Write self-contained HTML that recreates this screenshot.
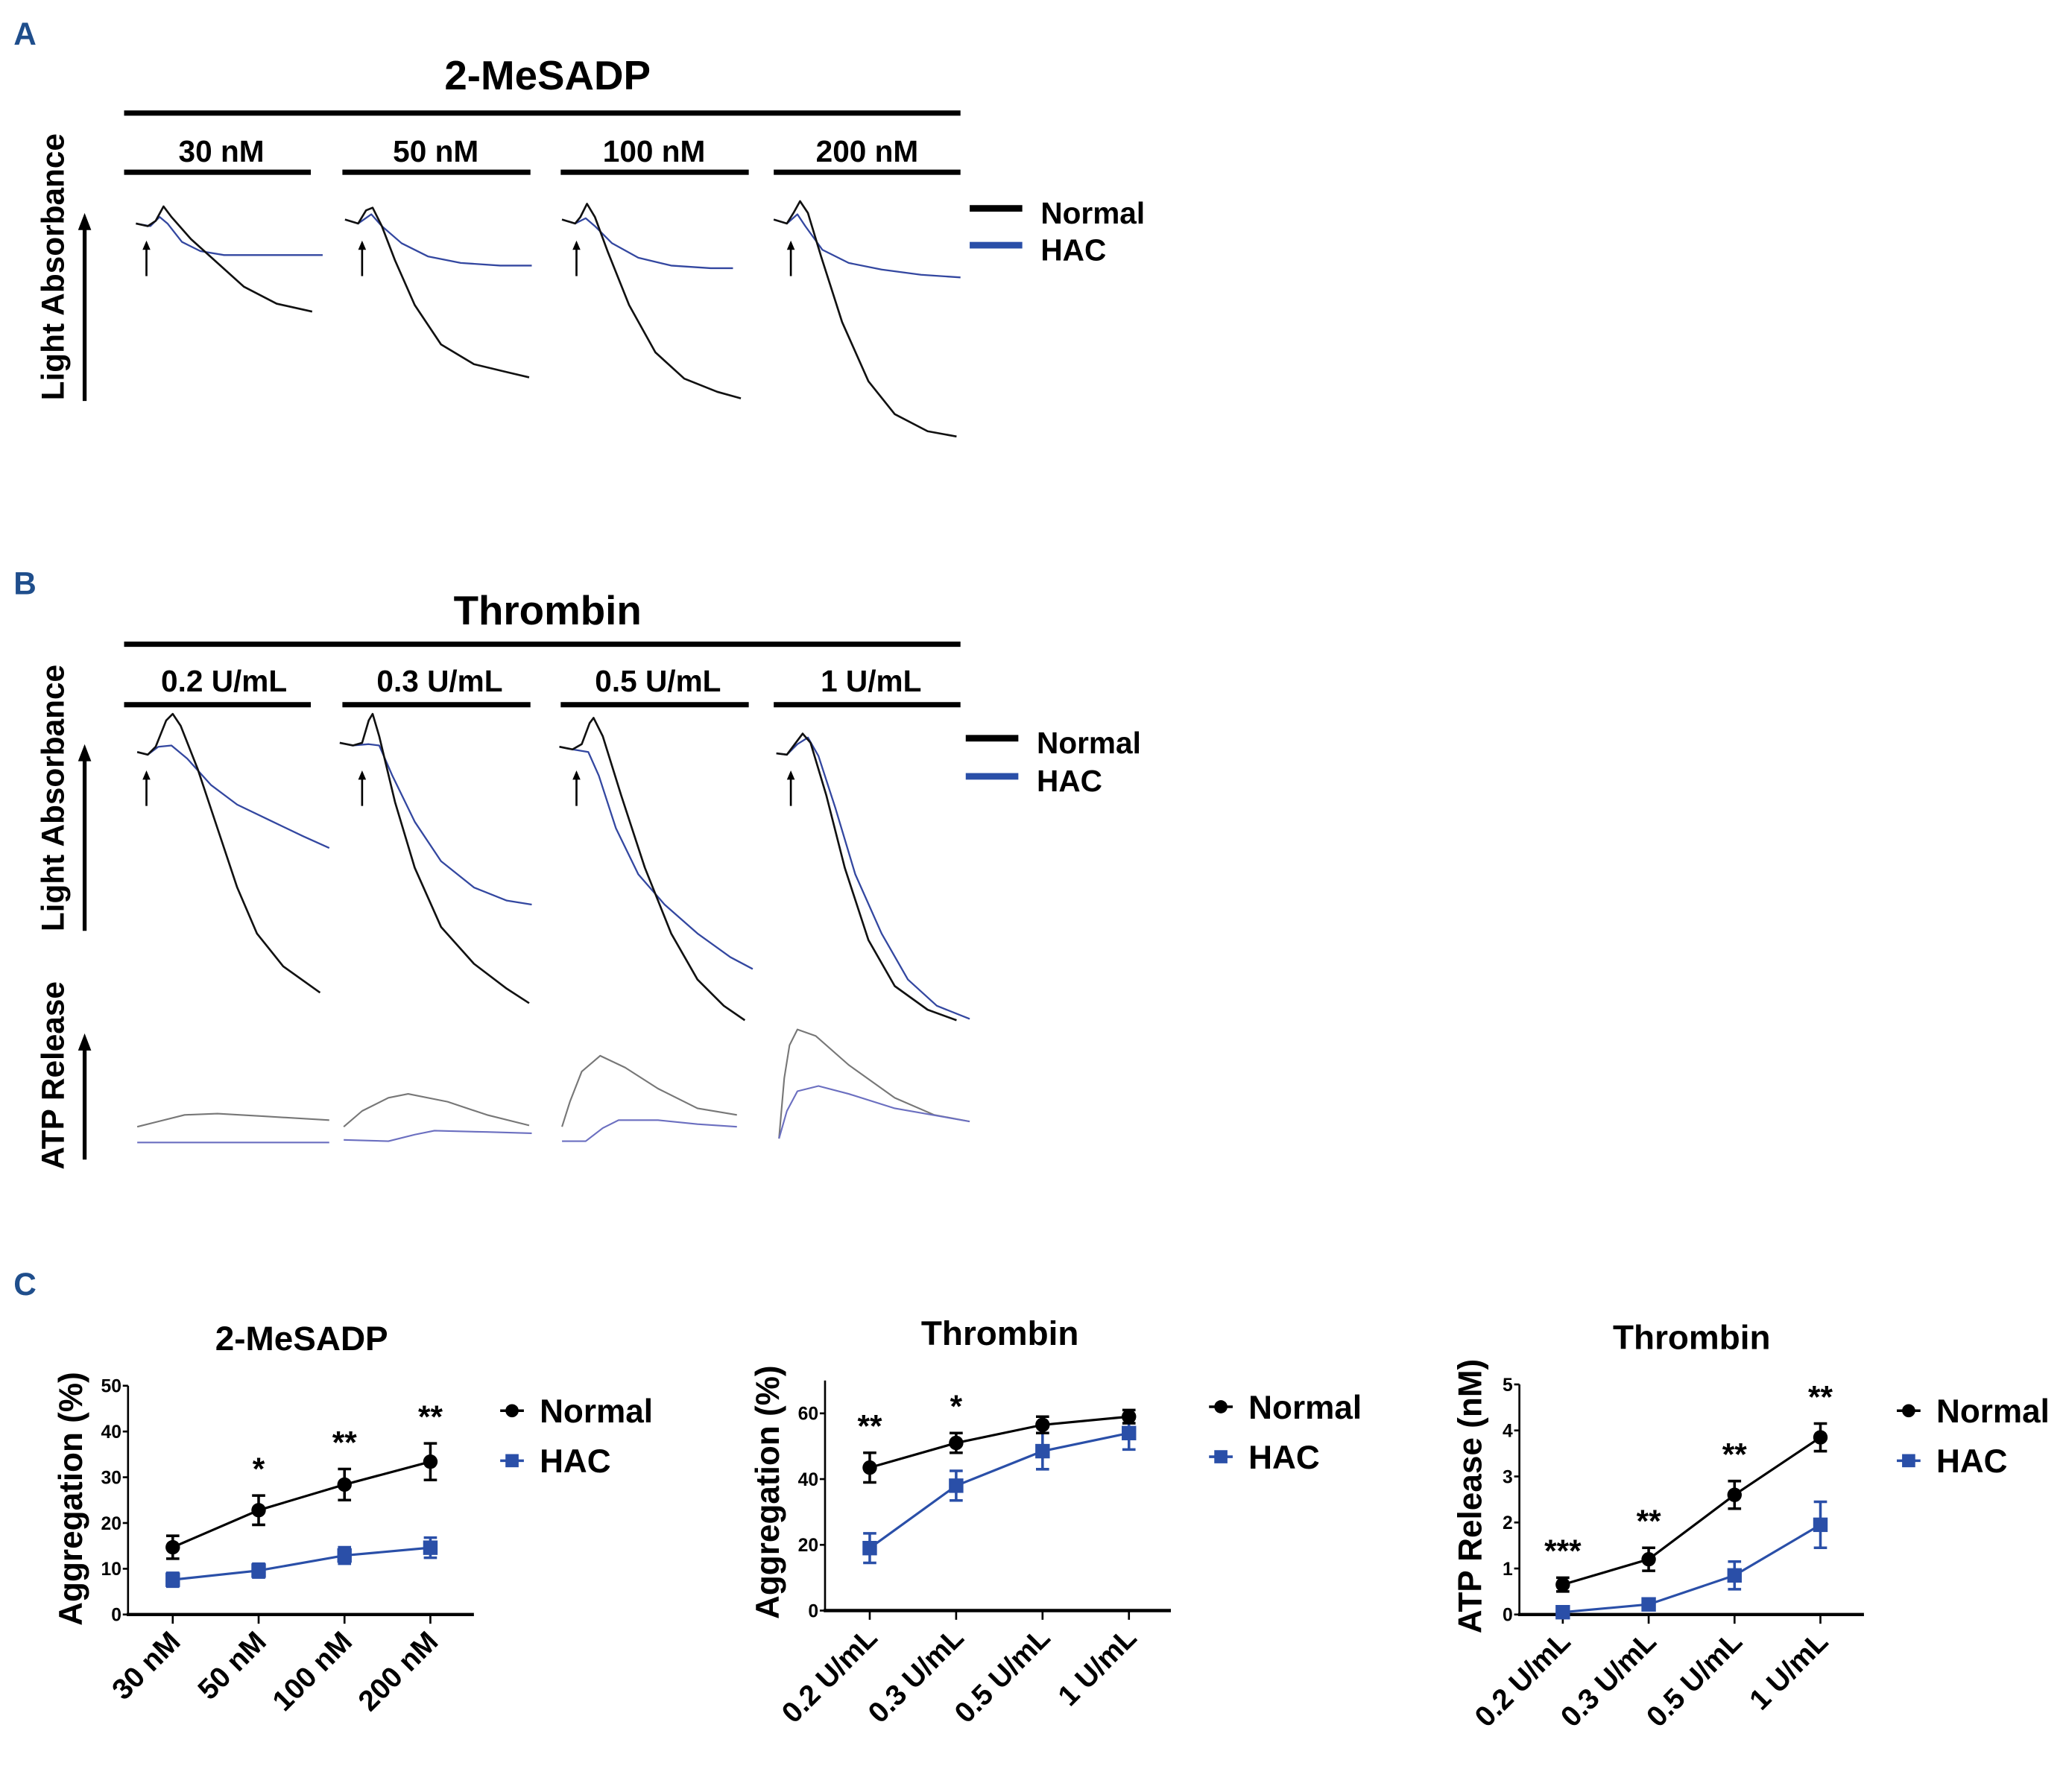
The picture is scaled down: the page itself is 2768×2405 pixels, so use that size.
<!DOCTYPE html>
<html><head><meta charset="utf-8"><style>
html,body{margin:0;padding:0;background:#fff;}
svg{display:block;}
text{font-family:"Liberation Sans",sans-serif;font-weight:bold;}
</style></head><body>
<svg id="fig" width="2768" height="2405" viewBox="0 0 1568 1363" xmlns="http://www.w3.org/2000/svg">
<g id="static">
<text x="10" y="34" font-size="24" fill="#1f4e8c">A</text>
<text x="416" y="68" font-size="31" text-anchor="middle">2-MeSADP</text>
<rect x="94" y="84" width="636" height="4"/>
<text x="168" y="123" font-size="23" text-anchor="middle">30 nM</text>
<text x="331" y="123" font-size="23" text-anchor="middle">50 nM</text>
<text x="497" y="123" font-size="23" text-anchor="middle">100 nM</text>
<text x="659" y="123" font-size="23" text-anchor="middle">200 nM</text>
<rect x="94" y="129" width="142" height="4"/>
<rect x="260" y="129" width="143" height="4"/>
<rect x="426" y="129" width="143" height="4"/>
<rect x="588" y="129" width="142" height="4"/>
<text transform="translate(48,203) rotate(-90)" font-size="24" text-anchor="middle">Light Absorbance</text>
<line x1="64" y1="305" x2="64" y2="172" stroke="#000" stroke-width="3"/>
<polygon points="64,162 59,175 69,175"/>
<rect x="737" y="156" width="40" height="5"/>
<text x="791" y="170" font-size="23">Normal</text>
<rect x="737" y="184" width="40" height="5" fill="#2a4fa8"/>
<text x="791" y="198" font-size="23">HAC</text>

<text x="10" y="452" font-size="24" fill="#1f4e8c">B</text>
<text x="416" y="475" font-size="31" text-anchor="middle">Thrombin</text>
<rect x="94" y="488" width="636" height="4"/>
<text x="170" y="526" font-size="23" text-anchor="middle">0.2 U/mL</text>
<text x="334" y="526" font-size="23" text-anchor="middle">0.3 U/mL</text>
<text x="500" y="526" font-size="23" text-anchor="middle">0.5 U/mL</text>
<text x="662" y="526" font-size="23" text-anchor="middle">1 U/mL</text>
<rect x="94" y="534" width="142" height="4"/>
<rect x="260" y="534" width="143" height="4"/>
<rect x="426" y="534" width="143" height="4"/>
<rect x="588" y="534" width="142" height="4"/>
<text transform="translate(48,607) rotate(-90)" font-size="24" text-anchor="middle">Light Absorbance</text>
<line x1="64" y1="708" x2="64" y2="576" stroke="#000" stroke-width="3"/>
<polygon points="64,566 59,579 69,579"/>
<text transform="translate(48,818) rotate(-90)" font-size="24" text-anchor="middle">ATP Release</text>
<line x1="64" y1="882" x2="64" y2="796" stroke="#000" stroke-width="3"/>
<polygon points="64,786 59,799 69,799"/>
<rect x="734" y="559" width="40" height="5"/>
<text x="788" y="573" font-size="23">Normal</text>
<rect x="734" y="588" width="40" height="5" fill="#2a4fa8"/>
<text x="788" y="602" font-size="23">HAC</text>

<text x="10" y="985" font-size="24" fill="#1f4e8c">C</text>
</g>
<g id="traces"></g>
<g id="charts"></g>
</svg>
<script>
const NS="http://www.w3.org/2000/svg";
const tracesG=document.getElementById('traces');
const chartsG=document.getElementById('charts');
function mk(tag,attrs,parent){const e=document.createElementNS(NS,tag);for(const k in attrs)e.setAttribute(k,attrs[k]);parent.appendChild(e);return e;}

const traceNormalA=[
 [[103,170],[112,172],[118,168],[124,157],[130,165],[145,182],[165,200],[185,218],[210,231],[237,237]],
 [[262,167],[272,170],[278,160],[283,158],[290,172],[300,198],[315,232],[335,262],[360,277],[385,283],[402,287]],
 [[427,167],[437,170],[441,165],[446,155],[452,165],[462,192],[478,232],[498,268],[520,288],[545,298],[563,303]],
 [[588,167],[598,170],[603,162],[608,153],[614,162],[624,195],[640,245],[660,290],[680,315],[705,328],[727,332]]
];
const traceHacA=[
 [[103,170],[114,172],[121,165],[127,170],[138,184],[152,191],[170,194],[200,194],[245,194]],
 [[262,167],[272,170],[282,163],[290,172],[305,185],[325,195],[350,200],[380,202],[404,202]],
 [[427,167],[437,170],[445,166],[452,172],[465,185],[485,196],[510,202],[540,204],[557,204]],
 [[588,167],[598,170],[606,163],[612,172],[625,190],[645,200],[670,205],[700,209],[730,211]]
];
const traceNormalB=[
 [[104,572],[112,574],[118,568],[126,548],[131,543],[137,552],[150,585],[165,630],[180,675],[195,710],[215,735],[243,755]],
 [[258,565],[268,567],[275,565],[280,548],[283,543],[288,560],[300,610],[315,660],[335,705],[360,733],[385,752],[402,763]],
 [[425,568],[435,570],[442,566],[448,550],[451,546],[458,560],[472,605],[490,660],[510,710],[530,745],[550,765],[566,776]],
 [[590,573],[598,574],[604,566],[610,558],[616,565],[628,605],[642,660],[660,715],[680,750],[705,768],[727,776]]
];
const traceHacB=[
 [[104,572],[112,574],[120,568],[130,567],[142,577],[160,597],[180,612],[205,624],[230,636],[250,645]],
 [[258,565],[268,567],[280,566],[288,567],[298,590],[315,625],[335,655],[360,675],[385,685],[404,688]],
 [[425,568],[435,570],[447,572],[455,590],[468,630],[485,665],[505,688],[530,710],[555,728],[572,737]],
 [[590,573],[598,574],[606,566],[614,561],[622,575],[635,615],[650,665],[670,710],[690,745],[712,765],[737,775]]
];
const traceAtpNormal=[
 [[104,857],[120,853],[140,848],[165,847],[200,849],[250,852]],
 [[261,857],[275,845],[295,835],[310,832],[340,838],[370,848],[402,856]],
 [[427,857],[433,838],[442,815],[456,803],[475,812],[500,828],[530,843],[560,848]],
 [[592,866],[596,820],[600,795],[606,783],[620,788],[645,810],[680,835],[710,848],[737,853]]
];
const traceAtpHac=[
 [[104,869],[250,869]],
 [[261,867],[295,868],[315,863],[330,860],[370,861],[404,862]],
 [[427,868],[445,868],[458,858],[470,852],[500,852],[530,855],[560,857]],
 [[592,866],[598,845],[606,830],[622,826],[645,832],[680,843],[737,853]]
];
const arrowsX=[111,275,438,601];

function poly(pts,color,w,name){
 const p=mk('polyline',{points:pts.map(q=>q.join(',')).join(' '),fill:'none',stroke:color,'stroke-width':w,'stroke-linejoin':'round'},tracesG);
 
 
}
traceHacA.forEach(t=>poly(t,'#3347a0',1.3,'trace-a-hac'));
traceNormalA.forEach(t=>poly(t,'#111',1.5,'trace-a-normal'));
traceHacB.forEach(t=>poly(t,'#3347a0',1.3,'trace-b-hac'));
traceNormalB.forEach(t=>poly(t,'#111',1.5,'trace-b-normal'));
traceAtpNormal.forEach(t=>poly(t,'#777',1.2,'trace-atp-normal'));
traceAtpHac.forEach(t=>poly(t,'#6b6fc0',1.2,'trace-atp-hac'));
arrowsX.forEach(x=>{
 [[183,210],[586,613]].forEach(([y1,y2])=>{
  const l=mk('line',{x1:x,y1:y1+5,x2:x,y2:y2,stroke:'#000','stroke-width':1.5},tracesG);
  
  
  const h=mk('polygon',{points:`${x},${y1} ${x-3},${y1+7} ${x+3},${y1+7}`},tracesG);
  
  
 });
});

const cat1=["30 nM","50 nM","100 nM","200 nM"];
const norm1=[14.7,22.8,28.4,33.4];
const normErr1=[2.5,3.2,3.4,4.0];
const hac1=[7.6,9.6,12.9,14.6];
const hacErr1=[1.5,1.5,1.8,2.2];
const stars1=["","*","**","**"];
const ticks1=[0,10,20,30,40,50];

const cat2=["0.2 U/mL","0.3 U/mL","0.5 U/mL","1 U/mL"];
const norm2=[43.5,51,56.5,59];
const normErr2=[4.5,3,2.5,2];
const hac2=[19,38,48.5,54];
const hacErr2=[4.5,4.5,5.5,5];
const stars2=["**","*","",""];
const ticks2=[0,20,40,60];

const cat3=["0.2 U/mL","0.3 U/mL","0.5 U/mL","1 U/mL"];
const norm3=[0.65,1.2,2.6,3.85];
const normErr3=[0.15,0.25,0.3,0.3];
const hac3=[0.05,0.22,0.85,1.95];
const hacErr3=[0.05,0.12,0.3,0.5];
const stars3=["***","**","**","**"];
const ticks3=[0,1,2,3,4,5];

function chart(o){
 const g=mk('g',{},chartsG);
 
 
 const y=v=>o.y0-(v-o.vmin)/(o.vmax-o.vmin)*(o.y0-o.y1);
 const x=i=>o.xs+i*o.dx;
 let t=mk('text',{x:o.tx,y:o.ty,'font-size':26,'text-anchor':'middle'},g);t.textContent=o.title;
 
 
 t=mk('text',{transform:`translate(${o.ylx},${o.ylc}) rotate(-90)`,'font-size':25,'text-anchor':'middle'},g);t.textContent=o.ylabel;
 
 
 let a=mk('line',{x1:o.ax,y1:o.yTop,x2:o.ax,y2:o.y0+1,stroke:'#000','stroke-width':1.5},g);
 
 
 a=mk('line',{x1:o.ax-1,y1:o.y0,x2:o.xEnd,y2:o.y0,stroke:'#000','stroke-width':2.5},g);
 
 
 o.ticks.forEach(v=>{
  const l=mk('line',{x1:o.ax-4,y1:y(v),x2:o.ax,y2:y(v),stroke:'#000','stroke-width':1.5},g);
  
  
  const tt=mk('text',{x:o.ax-5,y:y(v)+5,'font-size':14,'text-anchor':'end'},g);tt.textContent=v;
  
  
 });
 o.cats.forEach((c,i)=>{
  const l=mk('line',{x1:x(i),y1:o.y0,x2:x(i),y2:o.y0+7,stroke:'#000','stroke-width':1.5},g);
  
  
  const tt=mk('text',{transform:`translate(${x(i)+7},${o.y0+22}) rotate(-45)`,'font-size':22,'text-anchor':'end'},g);tt.textContent=c;
  
  
 });
 [[o.hac,o.hacErr,'#2a4fa8','hac'],[o.norm,o.normErr,'#000','normal']].forEach(([vals,errs,col,nm])=>{
  const pl=mk('polyline',{points:vals.map((v,i)=>x(i)+','+y(v)).join(' '),fill:'none',stroke:col,'stroke-width':1.8},g);
  
  
  vals.forEach((v,i)=>{
   const e=mk('path',{d:`M${x(i)},${y(v-errs[i])}V${y(v+errs[i])}M${x(i)-5},${y(v-errs[i])}h10M${x(i)-5},${y(v+errs[i])}h10`,stroke:col,'stroke-width':2,fill:'none'},g);
   
   
   let m;
   if(nm==='normal') m=mk('circle',{cx:x(i),cy:y(v),r:5.5,fill:col},g);
   else m=mk('rect',{x:x(i)-5.5,y:y(v)-5.5,width:11,height:11,fill:col},g);
   
   
  });
 });
 o.stars.forEach((s,i)=>{
  if(!s)return;
  const top=Math.max(o.norm[i]+o.normErr[i],o.hac[i]+o.hacErr[i]);
  const tt=mk('text',{x:x(i),y:y(top)-12,'font-size':24,'text-anchor':'middle'},g);tt.textContent=s;
  
  
 });
 const lx=o.lx,ly=o.ly;
 let m=mk('line',{x1:lx-9,y1:ly,x2:lx+9,y2:ly,stroke:'#000','stroke-width':2},g);
 
 
 m=mk('circle',{cx:lx,cy:ly,r:5,fill:'#000'},g);
 
 
 let tt=mk('text',{x:lx+21,y:ly+9,'font-size':25},g);tt.textContent='Normal';
 
 
 m=mk('line',{x1:lx-9,y1:ly+38,x2:lx+9,y2:ly+38,stroke:'#2a4fa8','stroke-width':2},g);
 
 
 m=mk('rect',{x:lx-5,y:ly+33,width:10,height:10,fill:'#2a4fa8'},g);
 
 
 tt=mk('text',{x:lx+21,y:ly+47,'font-size':25},g);tt.textContent='HAC';
 
 
}
chart({name:'chart-2mesadp-aggregation',title:'2-MeSADP',tx:229,ty:1027,ylabel:'Aggregation (%)',ylx:62,ylc:1140,
 ax:97,y0:1228,y1:1054,yTop:1054,vmin:0,vmax:50,xs:131,dx:65.3,xEnd:360,
 cats:cat1,norm:norm1,normErr:normErr1,hac:hac1,hacErr:hacErr1,stars:stars1,ticks:ticks1,lx:389,ly:1073});
chart({name:'chart-thrombin-aggregation',title:'Thrombin',tx:760,ty:1023,ylabel:'Aggregation (%)',ylx:592,ylc:1135,
 ax:627,y0:1225,y1:1075,yTop:1050,vmin:0,vmax:60,xs:661,dx:65.7,xEnd:890,
 cats:cat2,norm:norm2,normErr:normErr2,hac:hac2,hacErr:hacErr2,stars:stars2,ticks:ticks2,lx:928,ly:1070});
chart({name:'chart-thrombin-atp-release',title:'Thrombin',tx:1286,ty:1026,ylabel:'ATP Release (nM)',ylx:1126,ylc:1138,
 ax:1155,y0:1228,y1:1053,yTop:1053,vmin:0,vmax:5,xs:1188,dx:65.3,xEnd:1417,
 cats:cat3,norm:norm3,normErr:normErr3,hac:hac3,hacErr:hacErr3,stars:stars3,ticks:ticks3,lx:1451,ly:1073});
</script>
</body></html>
